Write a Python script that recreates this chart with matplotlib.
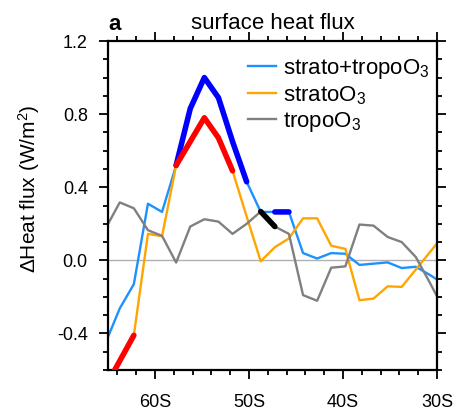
import numpy as np
import matplotlib
matplotlib.use("Agg")
import matplotlib.pyplot as plt

plt.rcParams['font.family'] = ['Liberation Sans', 'DejaVu Sans']
plt.rcParams['mathtext.default'] = 'regular'

# latitude grid (1.5 deg)
lats = [-65.25, -63.75, -62.25, -60.75, -59.25, -57.75, -56.25, -54.75, -53.25,
        -51.75, -50.25, -48.75, -47.25, -45.75, -44.25, -42.75, -41.25, -39.75,
        -38.25, -36.75, -35.25, -33.75, -32.25, -30.75, -29.25]

strato_tropo = [-0.45, -0.263, -0.13, 0.31, 0.265, 0.52, 0.83, 1.00, 0.89,
                0.65, 0.43, 0.265, 0.265, 0.265, 0.04, 0.01, 0.04, 0.036,
                -0.025, -0.018, -0.011, -0.042, -0.035, -0.08, -0.13]
strato = [-0.69, -0.55, -0.41, 0.145, 0.132, 0.52, 0.65, 0.78, 0.67,
          0.49, 0.24, -0.005, 0.072, 0.12, 0.23, 0.23, 0.08, 0.063,
          -0.218, -0.209, -0.142, -0.145, -0.05, 0.045, 0.14]
tropo = [0.175, 0.317, 0.285, 0.165, 0.134, -0.012, 0.185, 0.225, 0.212,
         0.145, 0.2, 0.267, 0.185, 0.145, -0.19, -0.221, -0.04, -0.033,
         0.196, 0.19, 0.128, 0.1, 0.018, -0.123, -0.27]

# significant points (drawn thick)
strato_tropo_sig = [0, 0, 0, 0, 0, 1, 1, 1, 1, 1, 1, 0, 1, 1, 0, 0, 0, 0, 0, 0, 0, 0, 0, 0, 0]
strato_sig = [1, 1, 1, 0, 0, 1, 1, 1, 1, 1, 0, 0, 0, 0, 0, 0, 0, 0, 0, 0, 0, 0, 0, 0, 0]
tropo_sig = [0, 0, 0, 0, 0, 0, 0, 0, 0, 0, 0, 1, 1, 0, 0, 0, 0, 0, 0, 0, 0, 0, 0, 0, 0]

fig = plt.figure(figsize=(4.58, 4.13), dpi=100)
ax = fig.add_axes([0.2358, 0.104, 0.7183, 0.7967])

ax.axhline(0, color='#b0b0b0', lw=1, zorder=1)

series = [
    (strato_tropo, strato_tropo_sig, '#1E90FF', 'blue', 'strato+tropoO$_3$'),
    (strato, strato_sig, 'orange', 'red', 'stratoO$_3$'),
    (tropo, tropo_sig, 'gray', 'black', 'tropoO$_3$'),
]
for vals, sig, c, csig, lab in series:
    v = np.array(vals)
    ax.plot(lats, v, color=c, lw=1.7, label=lab, zorder=2)
    vs = np.where(np.array(sig) == 1, v, np.nan)
    ax.plot(lats, vs, color=csig, lw=4.0, solid_capstyle='round', zorder=3)

ax.set_xlim(-65, -30)
ax.set_ylim(-0.6, 1.2)
ax.set_xticks([-60, -50, -40, -30])
ax.set_xticklabels(['60S', '50S', '40S', '30S'])
ax.set_xticks(np.arange(-64, -29, 2), minor=True)
ax.set_yticks([-0.4, 0.0, 0.4, 0.8, 1.2])
ax.set_yticklabels(['-0.4', '0.0', '0.4', '0.8', '1.2'])
ax.set_yticks(np.arange(-0.6, 1.21, 0.1), minor=True)

for s in ax.spines.values():
    s.set_linewidth(1.6)
ax.tick_params(which='both', direction='out', top=True, right=True, width=1.3)
ax.tick_params(which='major', length=6.5, pad=8, labelsize=13)
ax.tick_params(axis='x', which='major', pad=11)
ax.tick_params(which='minor', length=3.6)

ax.set_ylabel('\u0394Heat flux (W/m$^2$)', fontsize=15)
ax.yaxis.set_label_coords(-0.2, 0.55)
ax.set_title('surface heat flux', fontsize=16, pad=9)
ax.text(0.0, 1.033, 'a', transform=ax.transAxes, fontsize=16,
        fontweight='bold', ha='left', va='baseline')

ax.legend(loc='upper left', bbox_to_anchor=(0.398, 0.979), frameon=False,
          fontsize=16, handlelength=1.26, handletextpad=0.32,
          labelspacing=0.15, borderaxespad=0)

fig.savefig('out.png', dpi=100)
